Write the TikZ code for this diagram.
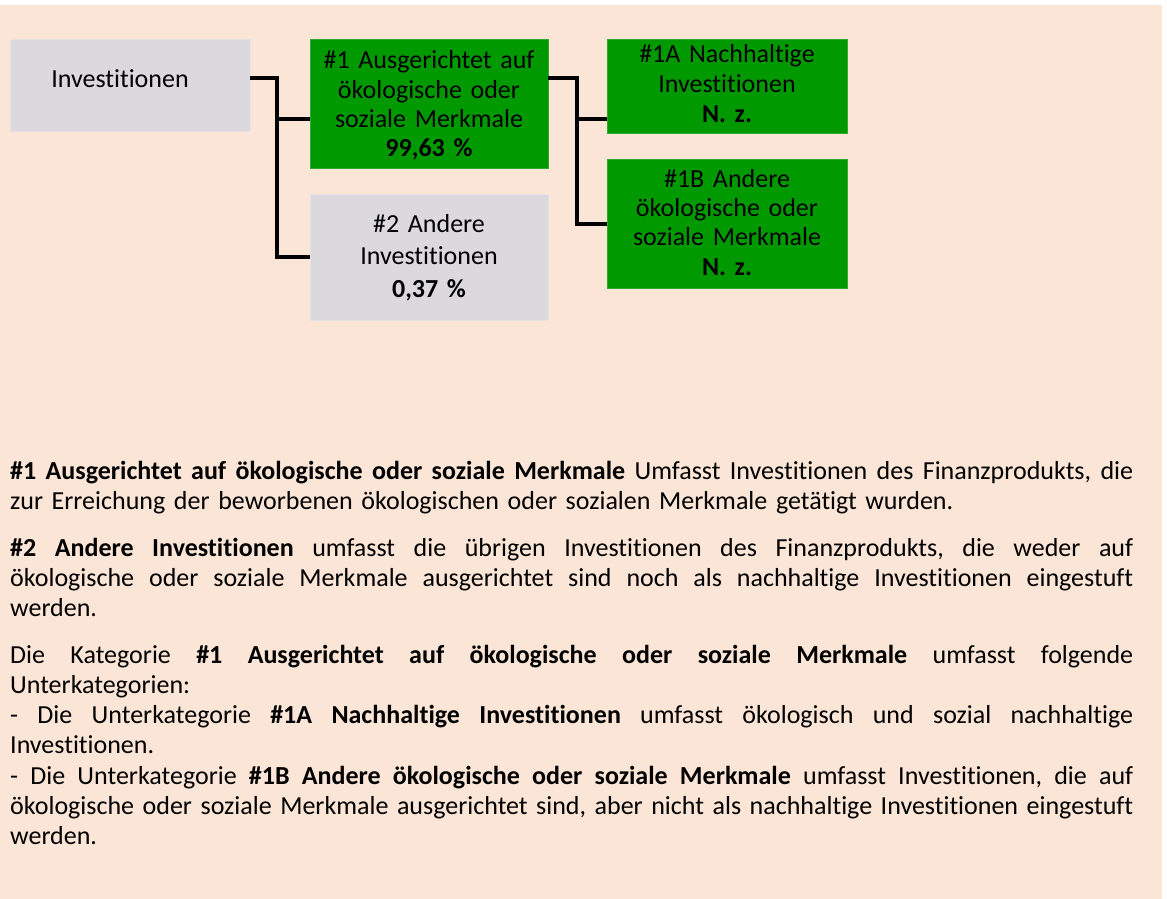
\documentclass[tikz,border=0pt]{standalone}
\usepackage{fontspec}
\setmainfont{Carlito}[Ligatures=NoCommon]
\definecolor{bgbeige}{HTML}{FBE5D6}
\definecolor{boxgrey}{HTML}{DBD9DE}
\definecolor{boxgreyline}{HTML}{E4E2E6}
\definecolor{boxgreen}{HTML}{009900}
\definecolor{boxgreenline}{HTML}{2EAA2E}
\newcommand\jline[1]{\leavevmode\hbox to 1123pt{\frenchspacing\spaceskip=\fontdimen2\font plus 1fil\relax #1}}
\begin{document}
\begin{tikzpicture}[x=1pt,y=-1pt,
  greybox/.style={fill=boxgrey, draw=boxgreyline, line width=0.8pt, inner sep=0pt, outer sep=0pt},
  greenbox/.style={fill=boxgreen, draw=boxgreenline, line width=0.8pt, inner sep=0pt, outer sep=0pt},
  boxtext/.style={align=center, text width=236pt, inner sep=0pt, anchor=base, font=\fontsize{26}{29.3}\selectfont},
  bodytext/.style={align=left, text width=1123pt, inner sep=0pt, anchor=base west, font=\fontsize{26}{30.3}\selectfont},
  conn/.style={line width=4pt, black, line join=miter}]
\useasboundingbox (0,0) rectangle (1167,899);
\fill[bgbeige] (0,5) rectangle (1162,899);
% boxes
\node[greybox, minimum width=240pt, minimum height=92pt] (inv) at (130,85) {};
\node[greenbox, minimum width=238pt, minimum height=129pt] (b1) at (429,103.5) {};
\node[greybox, minimum width=238pt, minimum height=126pt] (b2) at (429,257) {};
\node[greenbox, minimum width=240pt, minimum height=94pt] (b1a) at (727,86) {};
\node[greenbox, minimum width=240pt, minimum height=129pt] (b1b) at (727,223.5) {};
% connectors
\coordinate (v1) at (277,78);
\coordinate (h1) at (277,119);
\coordinate (v2) at (577,78);
\coordinate (h2) at (577,119);
\draw[conn] (inv.east |- v1) -- (v1) |- (b2.west);
\draw[conn] (h1) -- (b1.west |- h1);
\draw[conn] (b1.east |- v2) -- (v2) |- (b1b.west);
\draw[conn] (h2) -- (b1a.west |- h2);
% box texts
\node[boxtext] (tinv) at (120,87) {Investitionen};
\node[boxtext] (tb1) at (429,69) {\#1 Ausgerichtet auf\\ökologische oder\\soziale Merkmale\\\textbf{99,63 \%}};
\node[boxtext, font=\fontsize{26}{32.5}\selectfont] (tb2) at (429,232) {\#2 Andere\\Investitionen\\\textbf{0,37 \%}};
\node[boxtext, font=\fontsize{26}{30}\selectfont] (tb1a) at (727,63) {\#1A Nachhaltige\\Investitionen\\\textbf{N. z.}};
\node[boxtext, font=\fontsize{26}{29.4}\selectfont] (tb1b) at (727,187) {\#1B Andere\\ökologische oder\\soziale Merkmale\\\textbf{N. z.}};
% body text
\node[bodytext] (p1) at (10,479) {\jline{\textbf{\#1 Ausgerichtet auf ökologische oder soziale Merkmale} Umfasst Investitionen des Finanzprodukts, die}\\
zur Erreichung der beworbenen ökologischen oder sozialen Merkmale getätigt wurden.};
\node[bodytext, font=\fontsize{26}{30}\selectfont] (p2) at (10,556) {\jline{\textbf{\#2 Andere Investitionen} umfasst die übrigen Investitionen des Finanzprodukts, die weder auf}\\
\jline{ökologische oder soziale Merkmale ausgerichtet sind noch als nachhaltige Investitionen eingestuft}\\
werden.};
\node[bodytext] (p3) at (10,663) {\jline{Die Kategorie \textbf{\#1 Ausgerichtet auf ökologische oder soziale Merkmale} umfasst folgende}\\
Unterkategorien:\\
\jline{- Die Unterkategorie \textbf{\#1A Nachhaltige Investitionen} umfasst ökologisch und sozial nachhaltige}\\
Investitionen.\\
\jline{- Die Unterkategorie \textbf{\#1B Andere ökologische oder soziale Merkmale} umfasst Investitionen, die auf}\\
\jline{ökologische oder soziale Merkmale ausgerichtet sind, aber nicht als nachhaltige Investitionen eingestuft}\\
werden.};
\end{tikzpicture}
\end{document}
